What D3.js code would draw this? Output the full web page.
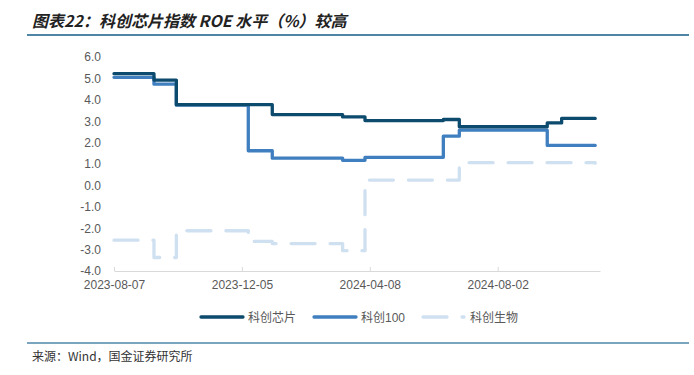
<!DOCTYPE html>
<html>
<head>
<meta charset="utf-8">
<script src="https://cdn.jsdelivr.net/npm/d3@7"></script>
<style>
body { margin: 0; background: #fff; }
</style>
</head>
<body>
<svg id="chart" width="694" height="375"></svg>
<script>
// series: step change points (trading-day index, ROE %)
var seriesNames = ["科创芯片", "科创100", "科创生物"];
var seriesColors = ["#0c4a6e", "#3f7fbf", "#cfe0f1"];

var chipDays = [0, 25, 39, 99, 143, 157, 206, 216, 271, 280, 301];
var chipRoe  = [5.22, 4.92, 3.77, 3.31, 3.2, 3.03, 3.08, 2.74, 2.92, 3.13, 3.13];

var k100Days = [0, 25, 39, 84, 99, 143, 157, 206, 216, 271, 301];
var k100Roe  = [5.05, 4.73, 3.75, 1.62, 1.27, 1.17, 1.31, 2.3, 2.58, 1.87, 1.87];

var bioDays = [0, 25, 39, 84, 99, 143, 157, 216, 301];
var bioRoe  = [-2.56, -3.37, -2.12, -2.62, -2.72, -3.05, 0.25, 1.06, 1.04];

var xTickDays   = [0, 80, 160, 240];
var xTickLabels = ["2023-08-07", "2023-12-05", "2024-04-08", "2024-08-02"];
var yTicks = [-4, -3, -2, -1, 0, 1, 2, 3, 4, 5, 6];

var svg = d3.select("#chart");
var font = "'Liberation Sans', Arial, 'Noto Sans CJK SC', sans-serif";

// title + rules
svg.append("text")
  .attr("x", 32).attr("y", 27)
  .style("font-family", "'Noto Sans CJK SC', sans-serif")
  .style("font-size", "16px")
  .style("font-weight", "bold")
  .style("font-style", "italic")
  .style("fill", "#222")
  .text("图表22：科创芯片指数 ROE 水平（%）较高");

svg.append("line")
  .attr("x1", 27).attr("x2", 689).attr("y1", 35).attr("y2", 35)
  .style("stroke", "#4f86a8").style("stroke-width", 2);

svg.append("line")
  .attr("x1", 27).attr("x2", 689).attr("y1", 343).attr("y2", 343)
  .style("stroke", "#4f86a8").style("stroke-width", 1.3);

svg.append("text")
  .attr("x", 32).attr("y", 361)
  .style("font-family", "'Noto Sans CJK SC', sans-serif")
  .style("font-size", "12px")
  .style("fill", "#333")
  .text("来源：Wind，国金证券研究所");

// scales
var x = d3.scaleLinear().domain([0, 304]).range([114, 600]);
var y = d3.scaleLinear().domain([-4, 6]).range([271, 57]);

// y axis (labels only)
var yAxis = svg.append("g")
  .attr("transform", "translate(114,0)")
  .call(d3.axisLeft(y).tickValues(yTicks).tickSize(0).tickPadding(13)
    .tickFormat(function(d) { return d.toFixed(1); }));
yAxis.select(".domain").remove();
yAxis.selectAll("text")
  .style("font-family", font).style("font-size", "12px").style("fill", "#595959");

// x axis
var xAxis = svg.append("g")
  .attr("transform", "translate(0," + y(-4) + ")")
  .call(d3.axisBottom(x).tickValues(xTickDays).tickSizeInner(-4).tickSizeOuter(0).tickPadding(9)
    .tickFormat(function(d, i) { return xTickLabels[i]; }));
xAxis.select(".domain").style("stroke", "#d9d9d9");
xAxis.selectAll(".tick line").style("stroke", "#d9d9d9");
xAxis.selectAll("text")
  .style("font-family", font).style("font-size", "12px").style("fill", "#595959");

// lines
var line = d3.line()
  .x(function(d) { return x(d[0]); })
  .y(function(d) { return y(d[1]); })
  .curve(d3.curveStepAfter);

var data = [
  d3.zip(bioDays, bioRoe),
  d3.zip(k100Days, k100Roe),
  d3.zip(chipDays, chipRoe)
];
var order = [2, 1, 0];

data.forEach(function(pts, i) {
  var s = order[i];
  svg.append("path")
    .attr("d", line(pts))
    .style("fill", "none")
    .style("stroke", seriesColors[s])
    .style("stroke-width", 3.3)
    .style("stroke-linejoin", "round")
    .style("stroke-linecap", "round")
    .style("stroke-dasharray", s === 2 ? "24 15" : null);
});

// legend
var lx = 201, ly = 317;
seriesNames.forEach(function(name, i) {
  var g = svg.append("g").attr("transform", "translate(" + lx + "," + ly + ")");
  g.append("line")
    .attr("x1", 0).attr("x2", i === 2 ? 41 : 42)
    .style("stroke", seriesColors[i])
    .style("stroke-width", 3.3)
    .style("stroke-linecap", "round")
    .style("stroke-dasharray", i === 2 ? "24 15" : null);
  var t = g.append("text")
    .attr("x", 47).attr("y", 4.5)
    .style("font-family", font).style("font-size", "12px").style("fill", "#595959")
    .text(name);
  lx += 47 + t.node().getComputedTextLength() + 18;
});
</script>
</body>
</html>
